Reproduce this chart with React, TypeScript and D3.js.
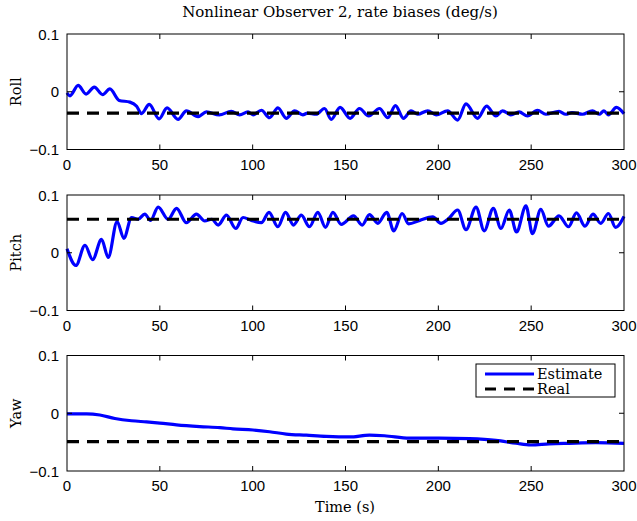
import React, { useEffect, useRef } from 'react';
import * as d3 from 'd3';

const timeTicks = [0, 50, 100, 150, 200, 250, 300];
const biasTicks = [-0.1, 0, 0.1];
const channels = ['Roll', 'Pitch', 'Yaw'];
const realBias = [-0.037, 0.058, -0.049];

// estimated bias as [time, value] at the turning points
const rollEstimate: [number, number][] = [
	[0, -0.002], [1.6, -0.007], [6, 0.011], [10.3, -0.004], [14.7, 0.008], [19.2, -0.005],
	[23.1, 0.005], [28.1, -0.015], [33.9, -0.018], [37.5, -0.025], [40.1, -0.038], [44.3, -0.022],
	[49.6, -0.047], [53.9, -0.028], [59.8, -0.048], [64.3, -0.033], [70.6, -0.043], [75.1, -0.035],
	[82, -0.04], [88.5, -0.034], [93, -0.04], [97.5, -0.035], [100.2, -0.04], [104.7, -0.032],
	[109.1, -0.045], [113.6, -0.028], [118.1, -0.046], [122.6, -0.033], [127, -0.04], [129.5, -0.037],
	[134.2, -0.039], [138.7, -0.029], [142.3, -0.048], [147.1, -0.027], [152.5, -0.046], [157.5, -0.029],
	[162.5, -0.042], [168.3, -0.029], [172.8, -0.045], [176.9, -0.024], [181.2, -0.046], [185.3, -0.033],
	[188.9, -0.039], [194.3, -0.033], [198.8, -0.04], [205, -0.033], [210.4, -0.049], [214.9, -0.021],
	[221.1, -0.046], [226, -0.025], [231, -0.042], [234.6, -0.033], [239.1, -0.04], [243.5, -0.035],
	[248, -0.042], [253.4, -0.032], [257.9, -0.039], [265, -0.034], [268.6, -0.039], [272, -0.036],
	[277.6, -0.039], [283, -0.033], [286.6, -0.039], [289.2, -0.033], [291.6, -0.04], [295.9, -0.027],
	[300, -0.038],
];

const pitchEstimate: [number, number][] = [
	[0, 0.007], [4.8, -0.022], [9.7, 0.013], [13.8, -0.012], [18.6, 0.023], [22.2, -0.008],
	[27, 0.054], [30.6, 0.025], [34.8, 0.061], [38.3, 0.058], [41.9, 0.067], [45, 0.056],
	[49.1, 0.079], [54.5, 0.058], [59, 0.077], [64.3, 0.052], [69.7, 0.067], [74.2, 0.055],
	[78, 0.058], [81.4, 0.048], [85.9, 0.065], [90.9, 0.042], [94.8, 0.061], [99.3, 0.056],
	[104.7, 0.052], [108.8, 0.07], [113.6, 0.045], [117.7, 0.07], [122, 0.048], [126.2, 0.065],
	[130.6, 0.045], [135.1, 0.07], [139.2, 0.044], [143.2, 0.07], [147.7, 0.049], [154.3, 0.064],
	[159, 0.048], [162.9, 0.066], [167.4, 0.051], [172.2, 0.07], [176, 0.038], [180.5, 0.068],
	[184, 0.05], [190, 0.056], [197, 0.062], [201.4, 0.051], [205.5, 0.059], [210.4, 0.074],
	[214.9, 0.04], [220.3, 0.079], [224.7, 0.038], [229.6, 0.077], [233.7, 0.042], [238.2, 0.074],
	[242.1, 0.036], [247.2, 0.081], [250.7, 0.033], [255.2, 0.075], [259.3, 0.046], [265, 0.064],
	[270.1, 0.045], [274.4, 0.069], [279, 0.046], [283.3, 0.067], [287.5, 0.051], [291.6, 0.068],
	[295.5, 0.044], [300, 0.063],
];

const yawEstimate: [number, number][] = [
	[0, -0.001], [10.6, -0.001], [17.7, -0.003], [25.8, -0.009], [34.8, -0.013], [42.8, -0.015],
	[50, -0.017], [59, -0.02], [71.5, -0.023], [82.3, -0.025], [89.4, -0.027], [100.2, -0.029],
	[109.1, -0.032], [118.1, -0.036], [128.9, -0.038], [139.6, -0.04], [152.2, -0.041], [162.9, -0.038],
	[171, -0.039], [184.4, -0.043], [200.5, -0.043], [216.7, -0.044], [231, -0.047], [241.8, -0.052],
	[249.8, -0.055], [259.7, -0.053], [270.4, -0.052], [284.8, -0.051], [300, -0.052],
];

const estimates = [rollEstimate, pitchEstimate, yawEstimate];

const width = 637;
const height = 521;
const left = 67;
const right = 624;
const panelTops = [34, 195, 355.5];
const panelHeight = 115.5;
const sans = '"Liberation Sans", Arial, sans-serif';
const serif = '"DejaVu Serif", serif';
const dash = '12,8';

const App = () => {
	const node = useRef<SVGSVGElement>(null);

	useEffect(() => {
		const svg = d3.select(node.current);
		svg.selectAll('*').remove();
		svg.append('rect').attr('width', width).attr('height', height).attr('fill', '#fff');

		const xScale = d3.scaleLinear().domain([0, 300]).range([left, right]);

		channels.forEach((name, i) => {
			const top = panelTops[i];
			const bottom = top + panelHeight;
			const yScale = d3.scaleLinear().domain([-0.1, 0.1]).range([bottom, top]);
			const g = svg.append('g');

			const line = d3
				.line<[number, number]>()
				.x(d => xScale(d[0]))
				.y(d => yScale(d[1]))
				.curve(d3.curveMonotoneX);

			g.append('path')
				.datum(estimates[i])
				.attr('d', line)
				.attr('fill', 'none')
				.attr('stroke', '#0000ff')
				.attr('stroke-width', 3.2);

			g.append('line')
				.attr('x1', xScale(0))
				.attr('x2', xScale(300))
				.attr('y1', yScale(realBias[i]))
				.attr('y2', yScale(realBias[i]))
				.attr('stroke', '#000')
				.attr('stroke-width', 3.2)
				.attr('stroke-dasharray', dash);

			// box with inward ticks on all four sides
			g.append('rect')
				.attr('x', left)
				.attr('y', top)
				.attr('width', right - left)
				.attr('height', panelHeight)
				.attr('fill', 'none')
				.attr('stroke', '#000')
				.attr('stroke-width', 1);

			timeTicks.slice(1, -1).forEach(t => {
				g.append('line').attr('x1', xScale(t)).attr('x2', xScale(t)).attr('y1', bottom).attr('y2', bottom - 5).attr('stroke', '#000');
				g.append('line').attr('x1', xScale(t)).attr('x2', xScale(t)).attr('y1', top).attr('y2', top + 5).attr('stroke', '#000');
			});
			g.append('line').attr('x1', left).attr('x2', left + 5).attr('y1', yScale(0)).attr('y2', yScale(0)).attr('stroke', '#000');
			g.append('line').attr('x1', right).attr('x2', right - 5).attr('y1', yScale(0)).attr('y2', yScale(0)).attr('stroke', '#000');

			g.selectAll('.xlab')
				.data(timeTicks)
				.enter()
				.append('text')
				.attr('x', d => xScale(d))
				.attr('y', bottom + 20)
				.attr('text-anchor', 'middle')
				.style('font', `15px ${sans}`)
				.text(d => d);

			g.selectAll('.ylab')
				.data(biasTicks)
				.enter()
				.append('text')
				.attr('x', 59)
				.attr('y', d => yScale(d) + 5.5)
				.attr('text-anchor', 'end')
				.style('font', `15px ${sans}`)
				.text(d => (d < 0 ? '\u2212' + Math.abs(d) : String(d)));

			g.append('text')
				.attr('transform', `translate(21,${(top + bottom) / 2}) rotate(-90)`)
				.attr('text-anchor', 'middle')
				.style('font', `14.5px ${serif}`)
				.text(name);
		});

		svg.append('text')
			.attr('x', 340)
			.attr('y', 17)
			.attr('text-anchor', 'middle')
			.style('font', `15px ${serif}`)
			.text('Nonlinear Observer 2, rate biases (deg/s)');

		svg.append('text')
			.attr('x', 345)
			.attr('y', 512)
			.attr('text-anchor', 'middle')
			.style('font', `14.5px ${serif}`)
			.text('Time (s)');

		// legend in the yaw panel
		const legend = svg.append('g');
		legend.append('rect').attr('x', 476).attr('y', 364).attr('width', 139).attr('height', 33).attr('fill', '#fff').attr('stroke', '#000');
		legend.append('line').attr('x1', 485).attr('x2', 534).attr('y1', 374).attr('y2', 374).attr('stroke', '#0000ff').attr('stroke-width', 3.2);
		legend.append('line').attr('x1', 485).attr('x2', 534).attr('y1', 389).attr('y2', 389).attr('stroke', '#000').attr('stroke-width', 3.2).attr('stroke-dasharray', '11,8');
		legend.append('text').attr('x', 537).attr('y', 379).style('font', `14.5px ${serif}`).text('Estimate');
		legend.append('text').attr('x', 537).attr('y', 394).style('font', `14.5px ${serif}`).text('Real');
	}, []);

	return <svg ref={node} width={width} height={height} style={{ position: 'absolute', left: 0, top: 0 }} />;
};

export default App;
